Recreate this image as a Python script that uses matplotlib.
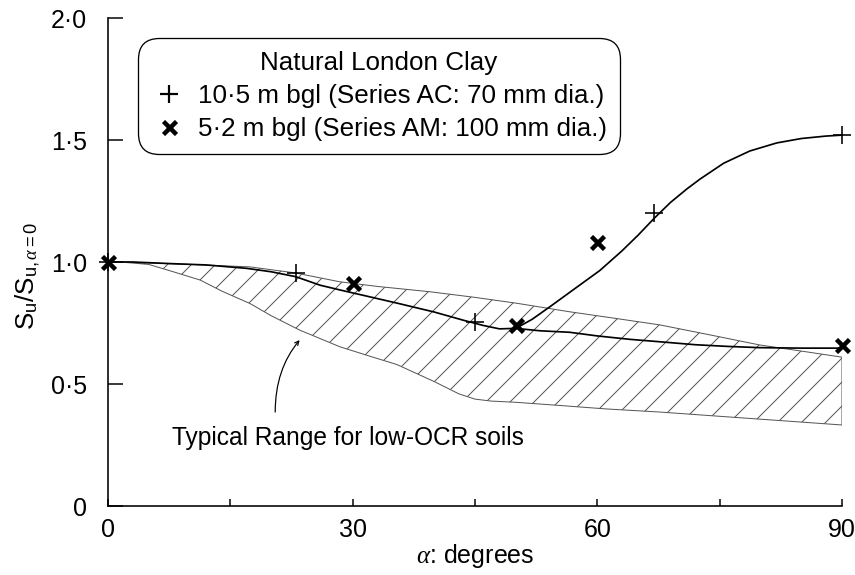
import numpy as np
import matplotlib
matplotlib.use('Agg')
import matplotlib.pyplot as plt
from matplotlib.lines import Line2D

plt.rcParams['font.family'] = ['Liberation Sans', 'DejaVu Sans']
plt.rcParams['mathtext.fontset'] = 'custom'
plt.rcParams['mathtext.rm'] = 'Liberation Sans'
plt.rcParams['mathtext.it'] = 'Liberation Serif:italic'
plt.rcParams['hatch.linewidth'] = 1.0

# Measured points
ac_x = [0, 23, 45, 67, 90]
ac_y = [1.0, 0.955, 0.755, 1.2, 1.52]
am_x = [0, 30, 50, 60, 90]
am_y = [1.0, 0.913, 0.74, 1.08, 0.66]

# Fitted curves
trend_x = [0, 3, 8, 12, 17, 20, 23, 26, 28.5, 32, 35.5, 40, 43.5, 46, 48, 50]
trend_y = [1.0, 1.0, 0.993, 0.988, 0.974, 0.96, 0.94, 0.905, 0.885, 0.858, 0.831,
           0.795, 0.762, 0.74, 0.726, 0.728]
low_x = [50, 53, 56.6, 60, 64, 67.7, 72, 76, 79.9, 85, 90]
low_y = [0.728, 0.718, 0.712, 0.697, 0.683, 0.673, 0.661, 0.654, 0.649, 0.647, 0.647]
up_x = [50, 52, 54.2, 57, 60.3, 63, 65, 67, 69, 71, 72.6, 75.5, 78.7, 82, 85, 88, 90]
up_y = [0.728, 0.765, 0.817, 0.885, 0.965, 1.045, 1.11, 1.18, 1.245, 1.3, 1.34, 1.405,
        1.455, 1.488, 1.506, 1.516, 1.52]

# Typical range band for low-OCR soils
band_top_x = [1.5, 5, 10, 17.4, 23, 28.4, 33, 39.5, 45, 50.1, 56.6, 62, 67.7, 74, 79.9, 85, 90]
band_top_y = [1.0, 0.996, 0.99, 0.98, 0.955, 0.919, 0.9, 0.878, 0.855, 0.831, 0.796,
              0.77, 0.742, 0.7, 0.66, 0.635, 0.61]
band_bot_x = [1.5, 5, 8, 11.3, 14, 17.4, 20, 23.5, 28.4, 32, 35.4, 40, 43, 45, 47, 50,
              55.4, 61, 67.7, 74, 79.9, 85, 90]
band_bot_y = [1.0, 0.99, 0.96, 0.926, 0.88, 0.83, 0.78, 0.721, 0.653, 0.615, 0.58,
              0.51, 0.46, 0.438, 0.43, 0.425, 0.412, 0.398, 0.385, 0.37, 0.356, 0.344, 0.332]

yticks = [0, 0.5, 1.0, 1.5, 2.0]
ytick_labels = ['0', '0·5', '1·0', '1·5', '2·0']
xticks = [0, 30, 60, 90]
xticks_minor = [15, 45, 75]

fig = plt.figure(figsize=(855 / 72, 575 / 72), dpi=72)
ax = fig.add_axes([108 / 855, 69 / 575, 734 / 855, 488 / 575])

# band
poly_x = band_top_x + band_bot_x[::-1]
poly_y = band_top_y + band_bot_y[::-1]
ax.fill(poly_x, poly_y, facecolor='white', edgecolor='#555555', hatch='/', lw=1.0, zorder=1)

# curves
ax.plot(trend_x, trend_y, color='black', lw=1.7, zorder=3)
ax.plot(low_x, low_y, color='black', lw=1.7, zorder=3)
ax.plot(up_x, up_y, color='black', lw=1.7, zorder=3)

# points
ax.plot(ac_x, ac_y, ls='none', marker='+', ms=18, mew=1.6, color='black', zorder=4, clip_on=False)
ax.plot(am_x, am_y, ls='none', marker='x', ms=13, mew=4.5, color='black', zorder=4, clip_on=False)

# annotation
ax.annotate('', xy=(23.5, 0.68), xytext=(20.5, 0.385),
            arrowprops=dict(arrowstyle='->', color='black', lw=1.2,
                            connectionstyle='angle3,angleA=90,angleB=50',
                            shrinkA=0, shrinkB=0))
ax.text(7.85, 0.279, 'Typical Range for low-OCR soils', fontsize=24.5, va='center', ha='left')

# axes
ax.set_xlim(0, 90)
ax.set_ylim(0, 2)
ax.spines['top'].set_visible(False)
ax.spines['right'].set_visible(False)
ax.spines['left'].set_linewidth(1.6)
ax.spines['bottom'].set_linewidth(1.6)
ax.set_yticks(yticks)
ax.set_yticklabels(ytick_labels)
ax.set_xticks(xticks)
ax.set_xticks(xticks_minor, minor=True)
ax.tick_params(axis='y', direction='in', length=15, width=1.5, pad=21, labelsize=25)
ax.tick_params(axis='x', which='both', direction='in', length=7, width=1.5, pad=12, labelsize=25)
for t in ax.xaxis.get_major_ticks():
    if t.get_loc() == 90:
        t.tick1line.set_markersize(22)

fig.text(475 / 855, 1 - 556 / 575, r'$\alpha$: degrees', fontsize=25, ha='center', va='center')
fig.text(28 / 855, 1 - 276 / 575, r'$\mathrm{S}_\mathrm{u}/\mathrm{S}_{\mathrm{u},\alpha=0}$',
         fontsize=26, rotation=90, ha='center', va='center')

# legend
handles = [Line2D([], [], ls='none', marker='+', ms=18, mew=2.2, color='black'),
           Line2D([], [], ls='none', marker='x', ms=13, mew=4.5, color='black')]
labels = ['10·5 m bgl (Series AC: 70 mm dia.)', '5·2 m bgl (Series AM: 100 mm dia.)']
leg = ax.legend(handles, labels, title='Natural London Clay', fontsize=26, title_fontsize=26,
                loc='upper left', bbox_to_anchor=(0.041, 0.959), borderaxespad=0,
                frameon=True, fancybox=True, framealpha=1, edgecolor='black',
                handlelength=1.36, handletextpad=0.43, labelspacing=0.35, borderpad=0.5)
leg.get_frame().set_linewidth(1.3)
leg.get_frame().set_boxstyle('round', pad=0, rounding_size=0.8)

fig.savefig('out.png', dpi=72)
